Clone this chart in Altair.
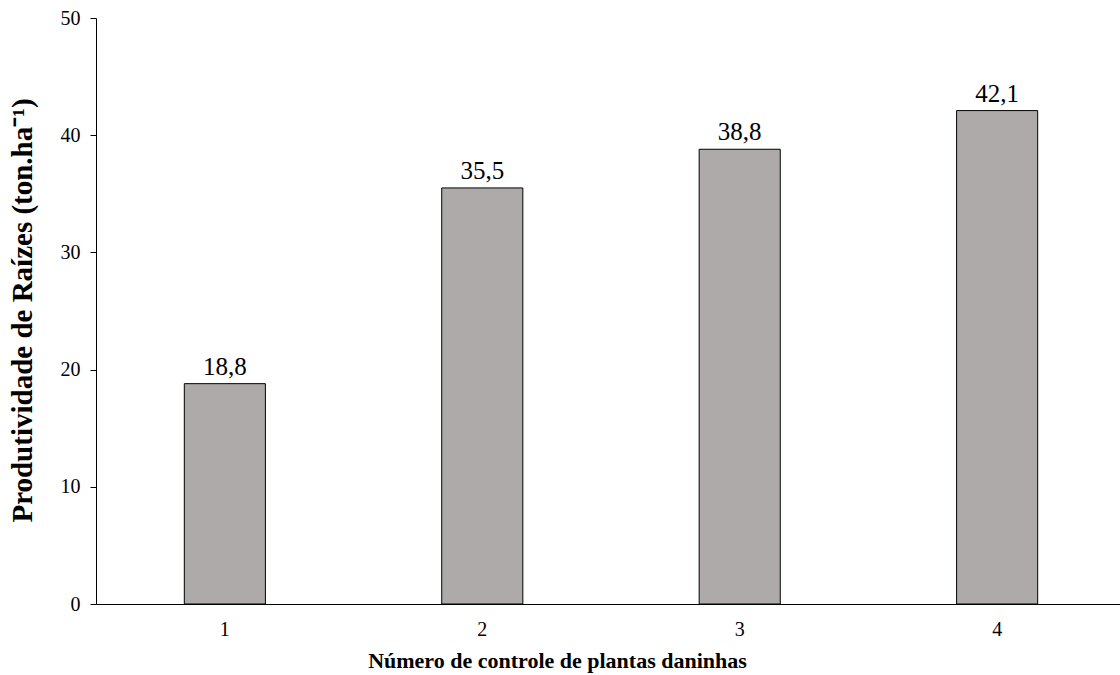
import altair as alt
import pandas as pd

# Root yield by number of weed-control operations
controles = ["1", "2", "3", "4"]
produtividade = [18.8, 35.5, 38.8, 42.1]
rotulos = ["18,8", "35,5", "38,8", "42,1"]

df = pd.DataFrame({"controle": controles, "prod": produtividade, "rotulo": rotulos})

FONT = "Liberation Serif, Times New Roman, serif"

x = alt.X(
    "controle:N",
    sort=controles,
    scale=alt.Scale(range=[0, 1030], paddingInner=0.685, paddingOuter=0.343),
    axis=alt.Axis(
        title="Número de controle de plantas daninhas",
        labelAngle=0,
        ticks=False,
        tickSize=0,
        labelPadding=15,
        labelFont=FONT,
        labelFontSize=20,
        labelColor="#000000",
        titleFont=FONT,
        titleFontSize=22,
        titleFontWeight="bold",
        titleColor="#000000",
        titleX=461,
        titleY=56,
        titleBaseline="middle",
        domainColor="#000000",
        domainWidth=1,
    ),
)

y = alt.Y(
    "prod:Q",
    scale=alt.Scale(domain=[0, 50], nice=False),
    axis=alt.Axis(
        title="Produtividade de Raízes (ton.ha⁻¹)",
        values=[0, 10, 20, 30, 40, 50],
        grid=False,
        tickSize=6,
        tickColor="#000000",
        labelPadding=10,
        labelFont=FONT,
        labelFontSize=20,
        labelColor="#000000",
        titleFont=FONT,
        titleFontSize=29,
        titleFontWeight="bold",
        titleColor="#000000",
        titleAngle=-90,
        titleAlign="center",
        titleBaseline="middle",
        titleX=-74,
        titleY=292,
        domainColor="#000000",
        domainWidth=1,
    ),
)

bars = alt.Chart(df).mark_bar(
    color="#aeaaa9", stroke="#000000", strokeWidth=1
).encode(x=x, y=y)

labels = alt.Chart(df).mark_text(
    font=FONT, fontSize=25, color="#000000", baseline="alphabetic", dy=-9
).encode(x=alt.X("controle:N", sort=controles), y="prod:Q", text="rotulo:N")

chart = (
    alt.layer(bars, labels)
    .properties(
        width=1024,
        height=586,
        autosize=alt.AutoSizeParams(type="none"),
        padding={"left": 96, "top": 18, "right": 0, "bottom": 71},
        background="#ffffff",
    )
    .configure_view(stroke=None)
)

chart.save("out.html", embed_options={"renderer": "svg", "actions": False})
